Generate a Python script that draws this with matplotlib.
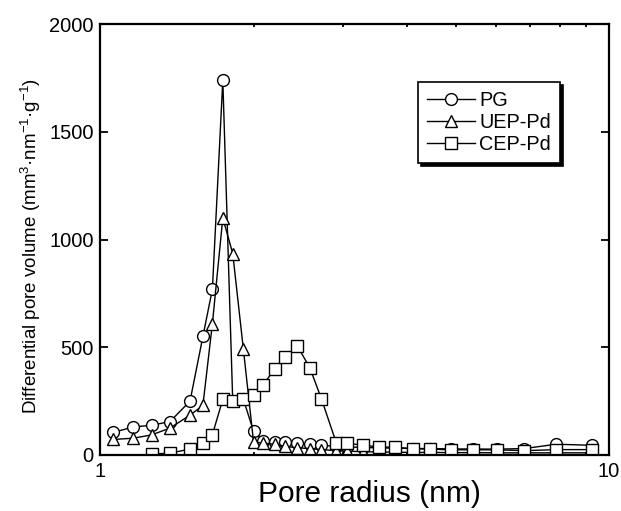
import matplotlib
matplotlib.use('Agg')
import matplotlib.pyplot as plt

plt.rcParams['font.family'] = ['Liberation Sans', 'DejaVu Sans']
plt.rcParams['mathtext.fontset'] = 'custom'
plt.rcParams['mathtext.rm'] = 'Liberation Sans'
plt.rcParams['mathtext.it'] = 'Liberation Sans:italic'

# pore radius grid (nm)
radius = [1.06, 1.16, 1.26, 1.37, 1.50, 1.59, 1.66, 1.74, 1.82, 1.91,
          2.00, 2.09, 2.20, 2.31, 2.44, 2.58, 2.72, 2.91, 3.06, 3.28,
          3.53, 3.79, 4.11, 4.45, 4.90, 5.39, 6.01, 6.82, 7.88, 9.27]

pg = [105, 130, 138, 155, 250, 550, 770, 1740, 250, 258,
      110, 65, 60, 58, 55, 52, 45, 40, 38, 35,
      33, 32, 30, 30, 28, 28, 27, 30, 50, 45]

uep = [72, 78, 93, 125, 185, 230, 610, 1100, 935, 490,
       60, 55, 50, 40, 33, 30, 25, 20, 18, 15,
       14, 13, 12, 12, 11, 11, 10, 10, 10, 10]

# CEP-Pd starts at the third radius
cep = [5, 8, 28, 55, 95, 258, 250, 258,
       280, 325, 400, 455, 505, 405, 260, 55, 55, 45,
       38, 35, 30, 27, 24, 24, 24, 20, 25, 25]

fig = plt.figure(figsize=(6.21, 5.11), dpi=100)
ax = fig.add_axes([0.1618, 0.1096, 0.8189, 0.8434])

common = dict(color='black', linewidth=1.0, markerfacecolor='white',
              markeredgecolor='black', markeredgewidth=1.0)
ax.plot(radius, pg, marker='o', markersize=8.5, label='PG', **common)
ax.plot(radius, uep, marker='^', markersize=8.5, label='UEP-Pd', **common)
ax.plot(radius[2:], cep, marker='s', markersize=9, label='CEP-Pd', **common)

ax.set_xscale('log')
ax.set_xlim(1, 10)
ax.set_ylim(0, 2000)
ax.set_xticks([1, 10])
ax.set_xticklabels(['1', '10'])
ax.set_yticks([0, 500, 1000, 1500, 2000])
ax.xaxis.set_minor_locator(matplotlib.ticker.FixedLocator([2, 3, 4, 5, 6, 7, 8, 9]))
ax.xaxis.set_minor_formatter(matplotlib.ticker.NullFormatter())

ax.tick_params(which='both', direction='in', top=True, right=True,
               labelsize=14.5, width=1.3)
ax.tick_params(which='major', length=6, pad=5)
ax.tick_params(which='minor', length=2.5)
for s in ax.spines.values():
    s.set_linewidth(1.6)

ax.set_xlabel('Pore radius (nm)', fontsize=21.5)
ax.xaxis.set_label_coords(0.528, -0.057)
ax.set_ylabel('Differential pore volume (mm$^{3}$·nm$^{-1}$·g$^{-1}$)',
              fontsize=13.5)
ax.yaxis.set_label_coords(-0.113, 0.485)

leg = ax.legend(loc='upper left', bbox_to_anchor=(0.624, 0.865),
                borderaxespad=0, fancybox=False, frameon=True,
                shadow={'color': 'black', 'alpha': 1},
                fontsize=14.3, handlelength=2.45, handletextpad=0.2,
                labelspacing=0.15, borderpad=0.45)
leg.get_frame().set_edgecolor('black')
leg.get_frame().set_linewidth(1.2)

fig.savefig('out.png', dpi=100)
